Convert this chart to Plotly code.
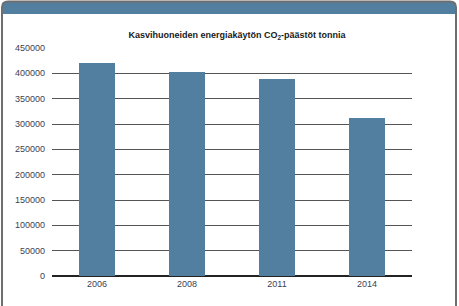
import plotly.graph_objects as go

years = ["2006", "2008", "2011", "2014"]
emissions = [420500, 402500, 389000, 312000]
y_ticks = [0, 50000, 100000, 150000, 200000, 250000, 300000, 350000, 400000, 450000]

W, H = 459, 306
ML, MR, MT, MB = 52, 47, 48, 30
PW, PH = W - ML - MR, H - MT - MB

def px(x):
    return (x - ML) / PW

def py(y):
    return 1 - (y - MT) / PH

FONT = "Liberation Sans, Arial, sans-serif"
BLUE = "#527ea0"

fig = go.Figure(go.Bar(
    x=years, y=emissions, marker=dict(color=BLUE, line=dict(width=0)),
    width=0.4,
))

def rounded_path(x0, y0, x1, y1, r):
    return (
        f"M {px(x0)},{py(y1)} "
        f"L {px(x0)},{py(y0 + r)} "
        f"Q {px(x0)},{py(y0)} {px(x0 + r)},{py(y0)} "
        f"L {px(x1 - r)},{py(y0)} "
        f"Q {px(x1)},{py(y0)} {px(x1)},{py(y0 + r)} "
        f"L {px(x1)},{py(y1)} Z"
    )

shapes = [
    dict(type="path", xref="paper", yref="paper", path=rounded_path(2, 1.5, 456, 14, 6),
         fillcolor=BLUE, line=dict(width=0), layer="below"),
    dict(type="path", xref="paper", yref="paper", path=rounded_path(2, 1.5, 456, 312, 6),
         fillcolor="rgba(0,0,0,0)", line=dict(color="#6e6e6e", width=2), layer="above"),
]

fig.update_layout(
    width=W, height=H,
    margin=dict(l=ML, r=MR, t=MT, b=MB),
    paper_bgcolor="white", plot_bgcolor="white",
    showlegend=False,
    font=dict(family=FONT, size=9, color="#3c3f52"),
    title=dict(
        text="<b>Kasvihuoneiden energiakäytön CO<sub>2</sub>-päästöt tonnia</b>",
        x=px(237), xanchor="center", xref="paper",
        y=1 - 35 / H, yanchor="middle",
        font=dict(family=FONT, size=9, color="#1a1a1a"),
    ),
    bargap=0.6,
    xaxis=dict(
        categoryorder="array", categoryarray=years,
        showgrid=False, showline=False, ticks="",
        tickfont=dict(family=FONT, size=9, color="#3c3f52"),
        ticklabelstandoff=1,
    ),
    yaxis=dict(
        range=[0, 450000], tickvals=y_ticks, ticktext=[str(v) for v in y_ticks],
        showgrid=True, gridcolor="#555555", gridwidth=1,
        zeroline=True, zerolinecolor="#222222", zerolinewidth=1.5,
        showline=False, ticks="",
        tickfont=dict(family=FONT, size=9, color="#3c3f52"),
        ticklabelstandoff=6,
    ),
    shapes=shapes,
)

fig.write_html("out.html")
